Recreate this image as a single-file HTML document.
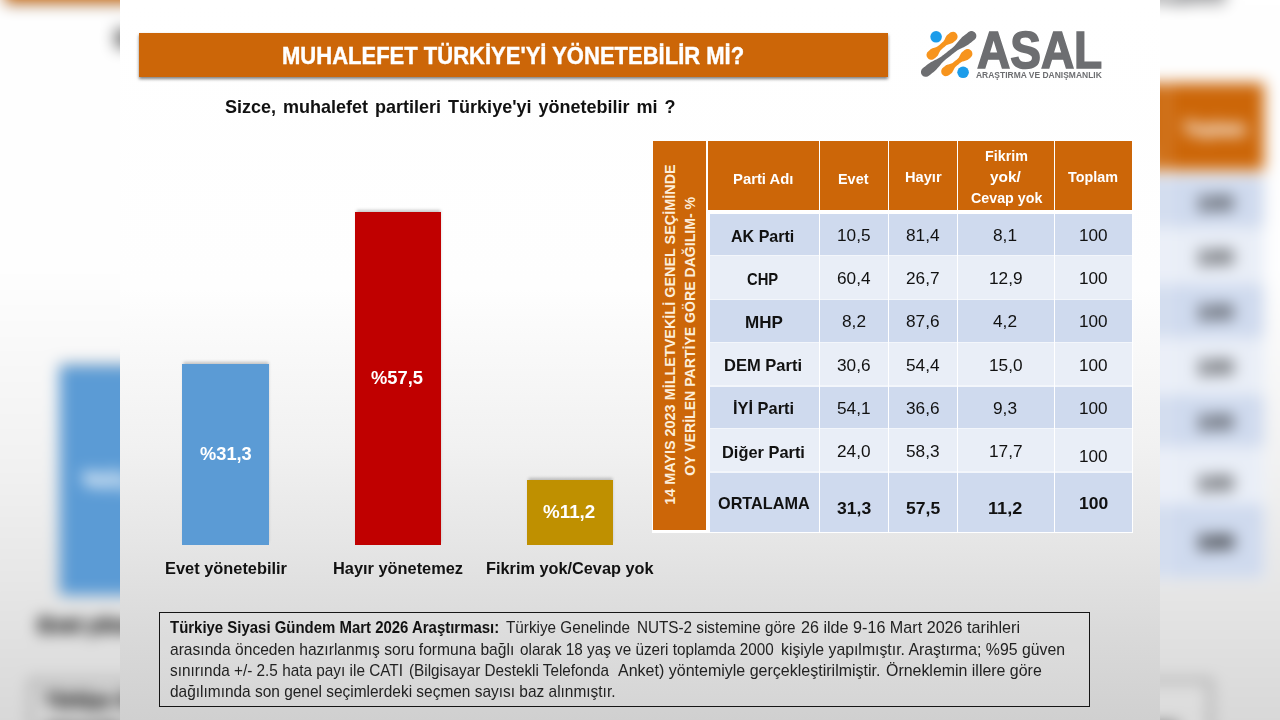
<!DOCTYPE html>
<html lang="tr"><head><meta charset="utf-8"><title>MUHALEFET TÜRKİYE'Yİ YÖNETEBİLİR Mİ?</title>
<style>
html,body{margin:0;padding:0}
body{width:1280px;height:720px;overflow:hidden;position:relative;background:#fff;font-family:'Liberation Sans',sans-serif}
.slide{position:absolute;left:120px;top:0;width:1040px;height:720px;overflow:hidden;
background:linear-gradient(180deg,#fff 0%,#fefefe 40%,#f1f1f1 62%,#e6e6e6 75%,#dadada 87.5%,#d0d0d0 100%)}
.t{position:absolute;white-space:pre;line-height:1;transform-origin:0 50%;font-family:'Liberation Sans',sans-serif}
.ttl{-webkit-text-stroke:.4px #fff}
.asal{-webkit-text-stroke:1.6px #6d6e71}
.bgwrap{position:absolute;left:0;top:0;width:1280px;height:720px;overflow:hidden}
.bg{position:absolute;left:-19.4px;top:-96.5px;width:1040px;height:720px;transform-origin:0 0;transform:scale(1.26800);filter:blur(6px)}
.bg .slide{left:0;overflow:visible}
.bg .t{-webkit-text-stroke:.7px}
.bg .asal{-webkit-text-stroke:1.9px #6d6e71}
.ext{position:absolute;left:-80px;top:-80px;width:1200px;height:880px;background:linear-gradient(180deg,#fff 0%,#fff 9.1%,#fefefe 41.8%,#f1f1f1 59.8%,#e6e6e6 70.5%,#dadada 80.7%,#d0d0d0 90.9%,#d0d0d0 100%)}
</style></head><body>
<div class="bgwrap" aria-hidden="true"><div class="bg"><div class="ext"></div><div class="slide">
<div style="position:absolute;left:19.00px;top:33.00px;width:749.00px;height:43.80px;background:#cc6608;box-shadow:0 2px 3px rgba(0,0,0,.5)"></div>
<div style="position:absolute;left:62.00px;top:364.00px;width:87.00px;height:180.50px;background:#5b9bd5;box-shadow:0 -2.5px 3px -0.5px rgba(0,0,0,.22)"></div>
<div style="position:absolute;left:235.00px;top:212.00px;width:86.20px;height:332.50px;background:#c00000;box-shadow:0 -2.5px 3px -0.5px rgba(0,0,0,.22)"></div>
<div style="position:absolute;left:407.00px;top:480.00px;width:86.00px;height:64.50px;background:#bf9000;box-shadow:0 -2.5px 3px -0.5px rgba(0,0,0,.22)"></div>
<div style="position:absolute;left:532.00px;top:140.50px;width:481.00px;height:392.50px;background:#fff;"></div>
<div style="position:absolute;left:589.50px;top:214.30px;width:422.50px;height:317.20px;background:#f3f6fb;"></div>
<div style="position:absolute;left:533.00px;top:141.00px;width:53.30px;height:388.50px;background:#cc6608;"></div>
<div style="position:absolute;left:588.00px;top:141.00px;width:111.00px;height:69.20px;background:#cc6608;"></div>
<div style="position:absolute;left:700.00px;top:141.00px;width:68.00px;height:69.20px;background:#cc6608;"></div>
<div style="position:absolute;left:769.00px;top:141.00px;width:68.00px;height:69.20px;background:#cc6608;"></div>
<div style="position:absolute;left:838.00px;top:141.00px;width:95.50px;height:69.20px;background:#cc6608;"></div>
<div style="position:absolute;left:934.50px;top:141.00px;width:77.50px;height:69.20px;background:#cc6608;"></div>
<div style="position:absolute;left:589.50px;top:214.30px;width:109.50px;height:40.70px;background:#cfdaee;"></div>
<div style="position:absolute;left:700.00px;top:214.30px;width:68.00px;height:40.70px;background:#cfdaee;"></div>
<div style="position:absolute;left:769.00px;top:214.30px;width:68.00px;height:40.70px;background:#cfdaee;"></div>
<div style="position:absolute;left:838.00px;top:214.30px;width:95.50px;height:40.70px;background:#cfdaee;"></div>
<div style="position:absolute;left:934.50px;top:214.30px;width:77.20px;height:40.70px;background:#cfdaee;"></div>
<div style="position:absolute;left:589.50px;top:256.00px;width:109.50px;height:43.30px;background:#e9eef7;"></div>
<div style="position:absolute;left:700.00px;top:256.00px;width:68.00px;height:43.30px;background:#e9eef7;"></div>
<div style="position:absolute;left:769.00px;top:256.00px;width:68.00px;height:43.30px;background:#e9eef7;"></div>
<div style="position:absolute;left:838.00px;top:256.00px;width:95.50px;height:43.30px;background:#e9eef7;"></div>
<div style="position:absolute;left:934.50px;top:256.00px;width:77.20px;height:43.30px;background:#e9eef7;"></div>
<div style="position:absolute;left:589.50px;top:300.30px;width:109.50px;height:42.00px;background:#cfdaee;"></div>
<div style="position:absolute;left:700.00px;top:300.30px;width:68.00px;height:42.00px;background:#cfdaee;"></div>
<div style="position:absolute;left:769.00px;top:300.30px;width:68.00px;height:42.00px;background:#cfdaee;"></div>
<div style="position:absolute;left:838.00px;top:300.30px;width:95.50px;height:42.00px;background:#cfdaee;"></div>
<div style="position:absolute;left:934.50px;top:300.30px;width:77.20px;height:42.00px;background:#cfdaee;"></div>
<div style="position:absolute;left:589.50px;top:343.30px;width:109.50px;height:42.20px;background:#e9eef7;"></div>
<div style="position:absolute;left:700.00px;top:343.30px;width:68.00px;height:42.20px;background:#e9eef7;"></div>
<div style="position:absolute;left:769.00px;top:343.30px;width:68.00px;height:42.20px;background:#e9eef7;"></div>
<div style="position:absolute;left:838.00px;top:343.30px;width:95.50px;height:42.20px;background:#e9eef7;"></div>
<div style="position:absolute;left:934.50px;top:343.30px;width:77.20px;height:42.20px;background:#e9eef7;"></div>
<div style="position:absolute;left:589.50px;top:386.50px;width:109.50px;height:41.30px;background:#cfdaee;"></div>
<div style="position:absolute;left:700.00px;top:386.50px;width:68.00px;height:41.30px;background:#cfdaee;"></div>
<div style="position:absolute;left:769.00px;top:386.50px;width:68.00px;height:41.30px;background:#cfdaee;"></div>
<div style="position:absolute;left:838.00px;top:386.50px;width:95.50px;height:41.30px;background:#cfdaee;"></div>
<div style="position:absolute;left:934.50px;top:386.50px;width:77.20px;height:41.30px;background:#cfdaee;"></div>
<div style="position:absolute;left:589.50px;top:428.80px;width:109.50px;height:42.70px;background:#e9eef7;"></div>
<div style="position:absolute;left:700.00px;top:428.80px;width:68.00px;height:42.70px;background:#e9eef7;"></div>
<div style="position:absolute;left:769.00px;top:428.80px;width:68.00px;height:42.70px;background:#e9eef7;"></div>
<div style="position:absolute;left:838.00px;top:428.80px;width:95.50px;height:42.70px;background:#e9eef7;"></div>
<div style="position:absolute;left:934.50px;top:428.80px;width:77.20px;height:42.70px;background:#e9eef7;"></div>
<div style="position:absolute;left:589.50px;top:472.50px;width:109.50px;height:59.00px;background:#cfdaee;"></div>
<div style="position:absolute;left:700.00px;top:472.50px;width:68.00px;height:59.00px;background:#cfdaee;"></div>
<div style="position:absolute;left:769.00px;top:472.50px;width:68.00px;height:59.00px;background:#cfdaee;"></div>
<div style="position:absolute;left:838.00px;top:472.50px;width:95.50px;height:59.00px;background:#cfdaee;"></div>
<div style="position:absolute;left:934.50px;top:472.50px;width:77.20px;height:59.00px;background:#cfdaee;"></div>
<div style="position:absolute;left:699.00px;top:214.30px;width:1.00px;height:317.20px;background:#fff;"></div>
<div style="position:absolute;left:768.00px;top:214.30px;width:1.00px;height:317.20px;background:#fff;"></div>
<div style="position:absolute;left:837.00px;top:214.30px;width:1.00px;height:317.20px;background:#fff;"></div>
<div style="position:absolute;left:933.50px;top:214.30px;width:1.00px;height:317.20px;background:#fff;"></div>
<div style="position:absolute;left:39px;top:611.6px;width:928.7px;height:93.0px;border:1px solid #151515;background:rgba(255,255,255,.1);box-sizing:content-box"></div>
<svg style="position:absolute;left:795px;top:25px" width="70" height="60" viewBox="0 0 70 60"><path d="M19.4 33.6 L18.4 34.3 L17.2 34.7 L15.9 34.8 L14.7 34.5 L13.6 34.0 L12.7 33.1 L12.0 32.1 L11.6 30.9 L11.5 29.6 L11.8 28.4 L12.3 27.3 L13.2 26.4 L13.7 25.9 L14.3 25.4 L14.8 25.0 L15.3 24.5 L15.9 24.1 L16.5 23.7 L17.2 23.4 L17.9 23.1 L18.6 22.9 L19.3 22.7 L20.1 22.4 L20.8 22.2 L21.5 21.9 L22.2 21.6 L22.8 21.3 L23.3 20.8 L23.9 20.4 L24.4 19.9 L25.0 19.4 L25.5 19.0 L26.0 18.5 L26.6 18.1 L27.1 17.6 L27.6 17.1 L28.2 16.7 L28.6 16.1 L29.0 15.5 L29.4 14.9 L29.8 14.2 L30.1 13.5 L30.4 12.8 L30.8 12.1 L31.1 11.4 L31.5 10.8 L32.0 10.3 L32.5 9.8 L33.1 9.3 L33.6 8.9 L34.1 8.4 L34.7 8.0 L35.7 7.3 L36.9 6.9 L38.2 6.8 L39.4 7.1 L40.5 7.6 L41.4 8.5 L42.1 9.5 L42.5 10.7 L42.6 12.0 L42.3 13.2 L41.8 14.3 L40.9 15.2 L40.4 15.7 L39.8 16.2 L39.3 16.6 L38.8 17.1 L38.2 17.5 L37.6 17.9 L36.9 18.2 L36.2 18.5 L35.5 18.7 L34.8 18.9 L34.0 19.2 L33.3 19.4 L32.6 19.7 L31.9 20.0 L31.3 20.3 L30.8 20.8 L30.2 21.2 L29.7 21.7 L29.1 22.2 L28.6 22.6 L28.1 23.1 L27.5 23.5 L27.0 24.0 L26.5 24.5 L25.9 24.9 L25.5 25.5 L25.1 26.1 L24.7 26.7 L24.3 27.4 L24.0 28.1 L23.7 28.8 L23.3 29.5 L23.0 30.2 L22.6 30.8 L22.1 31.3 L21.6 31.8 L21.0 32.3 L20.5 32.7 L20.0 33.2Z" fill="#f7941d"/><path d="M13.8 50.8 L12.7 51.5 L11.5 51.8 L10.2 51.8 L9.0 51.5 L7.9 50.9 L7.0 50.0 L6.3 48.9 L6.0 47.7 L6.0 46.4 L6.3 45.2 L6.9 44.1 L7.8 43.2 L8.9 42.3 L10.1 41.4 L11.2 40.5 L12.4 39.6 L13.5 38.7 L14.7 37.9 L16.0 37.1 L17.3 36.4 L18.6 35.7 L19.9 35.1 L21.3 34.4 L22.6 33.8 L23.9 33.1 L25.2 32.3 L26.4 31.5 L27.5 30.6 L28.7 29.7 L29.8 28.8 L31.0 27.9 L32.1 27.0 L33.2 26.1 L34.4 25.2 L35.5 24.3 L36.7 23.4 L37.8 22.5 L38.9 21.5 L39.9 20.4 L40.9 19.3 L41.8 18.2 L42.8 17.0 L43.7 15.9 L44.7 14.8 L45.7 13.7 L46.7 12.6 L47.8 11.6 L48.9 10.7 L50.1 9.8 L51.2 8.9 L52.4 8.0 L53.5 7.1 L54.6 6.4 L55.8 6.1 L57.1 6.1 L58.3 6.4 L59.4 7.0 L60.3 7.9 L61.0 9.0 L61.3 10.2 L61.3 11.5 L61.0 12.7 L60.4 13.8 L59.5 14.7 L58.4 15.6 L57.2 16.5 L56.1 17.4 L54.9 18.3 L53.8 19.2 L52.6 20.0 L51.3 20.8 L50.0 21.5 L48.7 22.2 L47.4 22.8 L46.0 23.5 L44.7 24.1 L43.4 24.8 L42.1 25.6 L40.9 26.4 L39.8 27.3 L38.6 28.2 L37.5 29.1 L36.3 30.0 L35.2 30.9 L34.1 31.8 L32.9 32.7 L31.8 33.6 L30.6 34.5 L29.5 35.4 L28.4 36.4 L27.4 37.5 L26.4 38.6 L25.5 39.7 L24.5 40.9 L23.6 42.0 L22.6 43.1 L21.6 44.2 L20.6 45.3 L19.5 46.3 L18.4 47.2 L17.2 48.1 L16.1 49.0 L14.9 49.9Z" fill="#6d6e71"/><path d="M34.0 50.1 L33.0 50.8 L31.8 51.1 L30.5 51.2 L29.3 50.9 L28.2 50.3 L27.3 49.4 L26.6 48.4 L26.3 47.2 L26.2 45.9 L26.5 44.7 L27.1 43.6 L28.0 42.7 L28.5 42.2 L29.0 41.8 L29.6 41.4 L30.1 40.9 L30.7 40.5 L31.3 40.1 L32.0 39.9 L32.7 39.6 L33.4 39.4 L34.1 39.2 L34.9 39.0 L35.6 38.8 L36.3 38.6 L37.0 38.3 L37.6 37.9 L38.1 37.5 L38.7 37.1 L39.2 36.6 L39.7 36.2 L40.3 35.7 L40.8 35.3 L41.4 34.9 L41.9 34.4 L42.4 34.0 L43.0 33.5 L43.4 33.0 L43.9 32.4 L44.2 31.8 L44.6 31.1 L44.9 30.4 L45.3 29.7 L45.6 29.1 L46.0 28.4 L46.4 27.8 L46.9 27.3 L47.4 26.8 L47.9 26.4 L48.5 26.0 L49.0 25.5 L49.6 25.1 L50.6 24.4 L51.8 24.1 L53.1 24.0 L54.3 24.3 L55.4 24.9 L56.3 25.8 L57.0 26.8 L57.3 28.0 L57.4 29.3 L57.1 30.5 L56.5 31.6 L55.6 32.5 L55.1 33.0 L54.6 33.4 L54.0 33.8 L53.5 34.3 L52.9 34.7 L52.3 35.1 L51.6 35.3 L50.9 35.6 L50.2 35.8 L49.5 36.0 L48.7 36.2 L48.0 36.4 L47.3 36.6 L46.6 36.9 L46.0 37.3 L45.5 37.7 L44.9 38.1 L44.4 38.6 L43.9 39.0 L43.3 39.5 L42.8 39.9 L42.2 40.3 L41.7 40.8 L41.2 41.2 L40.6 41.7 L40.2 42.2 L39.7 42.8 L39.4 43.4 L39.0 44.1 L38.7 44.8 L38.3 45.5 L38.0 46.1 L37.6 46.8 L37.2 47.4 L36.7 47.9 L36.2 48.4 L35.7 48.8 L35.1 49.2 L34.6 49.7Z" fill="#f7941d"/><circle cx="21.1" cy="11.8" r="5.8" fill="#1c9cea"/><circle cx="48.1" cy="47.3" r="5.8" fill="#1c9cea"/></svg>
<div class="t" style="left:554.91px;top:493.15px;font-size:14px;font-weight:700;color:#fdeeda;transform-origin:0 11.85px;transform:rotate(-90deg) scaleX(1.0301)">14 MAYIS 2023 MİLLETVEKİLİ GENEL SEÇİMİNDE</div>
<div class="t" style="left:575.01px;top:464.15px;font-size:14px;font-weight:700;color:#fdeeda;transform-origin:0 11.85px;transform:rotate(-90deg) scaleX(1.0065)">OY VERİLEN PARTİYE GÖRE DAĞILIM- %</div>
<div class="t ttl" style="left:162.20px;top:44.73px;font-size:23.0px;font-weight:700;color:#fff;transform:scaleX(0.9570)">MUHALEFET TÜRKİYE'Yİ YÖNETEBİLİR Mİ?</div>
<div class="t " style="left:104.50px;top:97.79px;font-size:18.2px;font-weight:700;color:#111;word-spacing:2px;transform:scaleX(0.9901)">Sizce, muhalefet partileri Türkiye'yi yönetebilir mi ?</div>
<div class="t " style="left:613.30px;top:171.05px;font-size:15px;font-weight:700;color:#fff;transform:scaleX(0.9890)">Parti Adı</div>
<div class="t " style="left:718.30px;top:171.05px;font-size:15px;font-weight:700;color:#fff;transform:scaleX(0.9609)">Evet</div>
<div class="t " style="left:785.40px;top:169.30px;font-size:15px;font-weight:700;color:#fff;transform:scaleX(0.9752)">Hayır</div>
<div class="t " style="left:864.60px;top:148.10px;font-size:15px;font-weight:700;color:#fff;transform:scaleX(0.9530)">Fikrim</div>
<div class="t " style="left:870.40px;top:169.30px;font-size:15px;font-weight:700;color:#fff;transform:scaleX(1.0278)">yok/</div>
<div class="t " style="left:850.60px;top:189.80px;font-size:15px;font-weight:700;color:#fff;transform:scaleX(0.9514)">Cevap yok</div>
<div class="t " style="left:947.50px;top:169.00px;font-size:15px;font-weight:700;color:#fff;transform:scaleX(0.9572)">Toplam</div>
<div class="t " style="left:611.25px;top:229.21px;font-size:15.7px;font-weight:700;color:#111;transform:scaleX(1.0233)">AK Parti</div>
<div class="t " style="left:627.30px;top:272.31px;font-size:15.7px;font-weight:700;color:#111;transform:scaleX(0.9419)">CHP</div>
<div class="t " style="left:624.80px;top:315.01px;font-size:15.7px;font-weight:700;color:#111;transform:scaleX(1.0867)">MHP</div>
<div class="t " style="left:604.40px;top:358.41px;font-size:15.7px;font-weight:700;color:#111;transform:scaleX(1.0538)">DEM Parti</div>
<div class="t " style="left:612.70px;top:401.11px;font-size:15.7px;font-weight:700;color:#111;transform:scaleX(1.0450)">İYİ Parti</div>
<div class="t " style="left:601.70px;top:445.01px;font-size:15.7px;font-weight:700;color:#111;transform:scaleX(1.0448)">Diğer Parti</div>
<div class="t " style="left:597.50px;top:496.11px;font-size:15.7px;font-weight:700;color:#111;transform:scaleX(1.0351)">ORTALAMA</div>
<div class="t " style="left:716.93px;top:227.71px;font-size:15.7px;font-weight:400;color:#111;transform:scaleX(1.0983)">10,5</div>
<div class="t " style="left:786.02px;top:227.71px;font-size:15.7px;font-weight:400;color:#111;transform:scaleX(1.0983)">81,4</div>
<div class="t " style="left:873.30px;top:227.71px;font-size:15.7px;font-weight:400;color:#111;transform:scaleX(1.1003)">8,1</div>
<div class="t " style="left:959.17px;top:227.71px;font-size:15.7px;font-weight:400;color:#111;transform:scaleX(1.0940)">100</div>
<div class="t " style="left:716.93px;top:270.81px;font-size:15.7px;font-weight:400;color:#111;transform:scaleX(1.0983)">60,4</div>
<div class="t " style="left:786.02px;top:270.81px;font-size:15.7px;font-weight:400;color:#111;transform:scaleX(1.0983)">26,7</div>
<div class="t " style="left:868.52px;top:270.81px;font-size:15.7px;font-weight:400;color:#111;transform:scaleX(1.0983)">12,9</div>
<div class="t " style="left:959.17px;top:270.81px;font-size:15.7px;font-weight:400;color:#111;transform:scaleX(1.0940)">100</div>
<div class="t " style="left:721.70px;top:314.01px;font-size:15.7px;font-weight:400;color:#111;transform:scaleX(1.1003)">8,2</div>
<div class="t " style="left:786.02px;top:314.01px;font-size:15.7px;font-weight:400;color:#111;transform:scaleX(1.0983)">87,6</div>
<div class="t " style="left:873.30px;top:314.01px;font-size:15.7px;font-weight:400;color:#111;transform:scaleX(1.1003)">4,2</div>
<div class="t " style="left:959.17px;top:314.01px;font-size:15.7px;font-weight:400;color:#111;transform:scaleX(1.0940)">100</div>
<div class="t " style="left:716.93px;top:357.71px;font-size:15.7px;font-weight:400;color:#111;transform:scaleX(1.0983)">30,6</div>
<div class="t " style="left:786.02px;top:357.71px;font-size:15.7px;font-weight:400;color:#111;transform:scaleX(1.0983)">54,4</div>
<div class="t " style="left:868.52px;top:357.71px;font-size:15.7px;font-weight:400;color:#111;transform:scaleX(1.0983)">15,0</div>
<div class="t " style="left:959.17px;top:357.71px;font-size:15.7px;font-weight:400;color:#111;transform:scaleX(1.0940)">100</div>
<div class="t " style="left:716.93px;top:400.81px;font-size:15.7px;font-weight:400;color:#111;transform:scaleX(1.0983)">54,1</div>
<div class="t " style="left:786.02px;top:400.81px;font-size:15.7px;font-weight:400;color:#111;transform:scaleX(1.0983)">36,6</div>
<div class="t " style="left:873.30px;top:400.81px;font-size:15.7px;font-weight:400;color:#111;transform:scaleX(1.1003)">9,3</div>
<div class="t " style="left:959.17px;top:400.81px;font-size:15.7px;font-weight:400;color:#111;transform:scaleX(1.0940)">100</div>
<div class="t " style="left:716.93px;top:444.01px;font-size:15.7px;font-weight:400;color:#111;transform:scaleX(1.0983)">24,0</div>
<div class="t " style="left:786.02px;top:444.01px;font-size:15.7px;font-weight:400;color:#111;transform:scaleX(1.0983)">58,3</div>
<div class="t " style="left:868.52px;top:444.01px;font-size:15.7px;font-weight:400;color:#111;transform:scaleX(1.0983)">17,7</div>
<div class="t " style="left:959.17px;top:449.21px;font-size:15.7px;font-weight:400;color:#111;transform:scaleX(1.0940)">100</div>
<div class="t " style="left:716.59px;top:500.71px;font-size:15.7px;font-weight:700;color:#111;transform:scaleX(1.1203)">31,3</div>
<div class="t " style="left:785.69px;top:500.71px;font-size:15.7px;font-weight:700;color:#111;transform:scaleX(1.1203)">57,5</div>
<div class="t " style="left:868.19px;top:500.71px;font-size:15.7px;font-weight:700;color:#111;transform:scaleX(1.1533)">11,2</div>
<div class="t " style="left:958.89px;top:496.01px;font-size:15.7px;font-weight:700;color:#111;transform:scaleX(1.1159)">100</div>
<div class="t " style="left:79.50px;top:446.19px;font-size:17.5px;font-weight:700;color:#fff;transform:scaleX(1.0428)">%31,3</div>
<div class="t " style="left:251.40px;top:369.79px;font-size:17.5px;font-weight:700;color:#fff;transform:scaleX(1.0479)">%57,5</div>
<div class="t " style="left:423.25px;top:504.49px;font-size:17.5px;font-weight:700;color:#fff;transform:scaleX(1.0739)">%11,2</div>
<div class="t " style="left:44.50px;top:561.31px;font-size:15.7px;font-weight:700;color:#111;transform:scaleX(1.0443)">Evet yönetebilir</div>
<div class="t " style="left:213.00px;top:561.31px;font-size:15.7px;font-weight:700;color:#111;transform:scaleX(1.0426)">Hayır yönetemez</div>
<div class="t " style="left:366.25px;top:561.31px;font-size:15.7px;font-weight:700;color:#111;transform:scaleX(1.0384)">Fikrim yok/Cevap yok</div>
<div class="t " style="left:49.50px;top:619.37px;font-size:16.1px;font-weight:700;color:#111;transform:scaleX(0.9287)">Türkiye Siyasi Gündem Mart 2026 Araştırması:</div>
<div class="t " style="left:386.00px;top:619.37px;font-size:16.1px;font-weight:400;color:#222;transform:scaleX(0.9494)">Türkiye Genelinde</div>
<div class="t " style="left:517.00px;top:619.37px;font-size:16.1px;font-weight:400;color:#222;transform:scaleX(0.9477)">NUTS-2 sistemine göre</div>
<div class="t " style="left:681.00px;top:619.37px;font-size:16.1px;font-weight:400;color:#222;transform:scaleX(1.0033)">26 ilde 9-16 Mart 2026 tarihleri</div>
<div class="t " style="left:49.50px;top:640.62px;font-size:16.1px;font-weight:400;color:#222;transform:scaleX(0.9692)">arasında önceden hazırlanmış soru formuna bağlı</div>
<div class="t " style="left:400.00px;top:640.62px;font-size:16.1px;font-weight:400;color:#222;transform:scaleX(0.9486)">olarak 18 yaş ve üzeri toplamda 2000</div>
<div class="t " style="left:661.00px;top:640.62px;font-size:16.1px;font-weight:400;color:#222;transform:scaleX(0.9830)">kişiyle yapılmıştır. Araştırma; %95 güven</div>
<div class="t " style="left:49.50px;top:661.87px;font-size:16.1px;font-weight:400;color:#222;transform:scaleX(0.9535)">sınırında +/- 2.5 hata payı ile CATI</div>
<div class="t " style="left:288.75px;top:661.87px;font-size:16.1px;font-weight:400;color:#222;transform:scaleX(0.9486)">(Bilgisayar Destekli Telefonda</div>
<div class="t " style="left:497.50px;top:661.87px;font-size:16.1px;font-weight:400;color:#222;transform:scaleX(0.9949)">Anket) yöntemiyle gerçekleştirilmiştir.</div>
<div class="t " style="left:766.25px;top:661.87px;font-size:16.1px;font-weight:400;color:#222;transform:scaleX(0.9893)">Örneklemin illere göre</div>
<div class="t " style="left:49.50px;top:683.12px;font-size:16.1px;font-weight:400;color:#222;transform:scaleX(0.9596)">dağılımında son genel seçimlerdeki seçmen sayısı baz alınmıştır.</div>
<div class="t asal" style="left:857.20px;top:24.28px;font-size:52px;font-weight:700;color:#6d6e71;transform:scaleX(0.8844)">ASAL</div>
<div class="t " style="left:856.00px;top:69.92px;font-size:9.9px;font-weight:700;color:#6d6e71;transform:scaleX(0.8577)">ARAŞTIRMA VE DANIŞMANLIK</div>
</div></div></div>
<div class="slide">
<div style="position:absolute;left:19.00px;top:33.00px;width:749.00px;height:43.80px;background:#cc6608;box-shadow:0 2px 3px rgba(0,0,0,.5)"></div>
<div style="position:absolute;left:62.00px;top:364.00px;width:87.00px;height:180.50px;background:#5b9bd5;box-shadow:0 -2.5px 3px -0.5px rgba(0,0,0,.22)"></div>
<div style="position:absolute;left:235.00px;top:212.00px;width:86.20px;height:332.50px;background:#c00000;box-shadow:0 -2.5px 3px -0.5px rgba(0,0,0,.22)"></div>
<div style="position:absolute;left:407.00px;top:480.00px;width:86.00px;height:64.50px;background:#bf9000;box-shadow:0 -2.5px 3px -0.5px rgba(0,0,0,.22)"></div>
<div style="position:absolute;left:532.00px;top:140.50px;width:481.00px;height:392.50px;background:#fff;"></div>
<div style="position:absolute;left:589.50px;top:214.30px;width:422.50px;height:317.20px;background:#f3f6fb;"></div>
<div style="position:absolute;left:533.00px;top:141.00px;width:53.30px;height:388.50px;background:#cc6608;"></div>
<div style="position:absolute;left:588.00px;top:141.00px;width:111.00px;height:69.20px;background:#cc6608;"></div>
<div style="position:absolute;left:700.00px;top:141.00px;width:68.00px;height:69.20px;background:#cc6608;"></div>
<div style="position:absolute;left:769.00px;top:141.00px;width:68.00px;height:69.20px;background:#cc6608;"></div>
<div style="position:absolute;left:838.00px;top:141.00px;width:95.50px;height:69.20px;background:#cc6608;"></div>
<div style="position:absolute;left:934.50px;top:141.00px;width:77.50px;height:69.20px;background:#cc6608;"></div>
<div style="position:absolute;left:589.50px;top:214.30px;width:109.50px;height:40.70px;background:#cfdaee;"></div>
<div style="position:absolute;left:700.00px;top:214.30px;width:68.00px;height:40.70px;background:#cfdaee;"></div>
<div style="position:absolute;left:769.00px;top:214.30px;width:68.00px;height:40.70px;background:#cfdaee;"></div>
<div style="position:absolute;left:838.00px;top:214.30px;width:95.50px;height:40.70px;background:#cfdaee;"></div>
<div style="position:absolute;left:934.50px;top:214.30px;width:77.20px;height:40.70px;background:#cfdaee;"></div>
<div style="position:absolute;left:589.50px;top:256.00px;width:109.50px;height:43.30px;background:#e9eef7;"></div>
<div style="position:absolute;left:700.00px;top:256.00px;width:68.00px;height:43.30px;background:#e9eef7;"></div>
<div style="position:absolute;left:769.00px;top:256.00px;width:68.00px;height:43.30px;background:#e9eef7;"></div>
<div style="position:absolute;left:838.00px;top:256.00px;width:95.50px;height:43.30px;background:#e9eef7;"></div>
<div style="position:absolute;left:934.50px;top:256.00px;width:77.20px;height:43.30px;background:#e9eef7;"></div>
<div style="position:absolute;left:589.50px;top:300.30px;width:109.50px;height:42.00px;background:#cfdaee;"></div>
<div style="position:absolute;left:700.00px;top:300.30px;width:68.00px;height:42.00px;background:#cfdaee;"></div>
<div style="position:absolute;left:769.00px;top:300.30px;width:68.00px;height:42.00px;background:#cfdaee;"></div>
<div style="position:absolute;left:838.00px;top:300.30px;width:95.50px;height:42.00px;background:#cfdaee;"></div>
<div style="position:absolute;left:934.50px;top:300.30px;width:77.20px;height:42.00px;background:#cfdaee;"></div>
<div style="position:absolute;left:589.50px;top:343.30px;width:109.50px;height:42.20px;background:#e9eef7;"></div>
<div style="position:absolute;left:700.00px;top:343.30px;width:68.00px;height:42.20px;background:#e9eef7;"></div>
<div style="position:absolute;left:769.00px;top:343.30px;width:68.00px;height:42.20px;background:#e9eef7;"></div>
<div style="position:absolute;left:838.00px;top:343.30px;width:95.50px;height:42.20px;background:#e9eef7;"></div>
<div style="position:absolute;left:934.50px;top:343.30px;width:77.20px;height:42.20px;background:#e9eef7;"></div>
<div style="position:absolute;left:589.50px;top:386.50px;width:109.50px;height:41.30px;background:#cfdaee;"></div>
<div style="position:absolute;left:700.00px;top:386.50px;width:68.00px;height:41.30px;background:#cfdaee;"></div>
<div style="position:absolute;left:769.00px;top:386.50px;width:68.00px;height:41.30px;background:#cfdaee;"></div>
<div style="position:absolute;left:838.00px;top:386.50px;width:95.50px;height:41.30px;background:#cfdaee;"></div>
<div style="position:absolute;left:934.50px;top:386.50px;width:77.20px;height:41.30px;background:#cfdaee;"></div>
<div style="position:absolute;left:589.50px;top:428.80px;width:109.50px;height:42.70px;background:#e9eef7;"></div>
<div style="position:absolute;left:700.00px;top:428.80px;width:68.00px;height:42.70px;background:#e9eef7;"></div>
<div style="position:absolute;left:769.00px;top:428.80px;width:68.00px;height:42.70px;background:#e9eef7;"></div>
<div style="position:absolute;left:838.00px;top:428.80px;width:95.50px;height:42.70px;background:#e9eef7;"></div>
<div style="position:absolute;left:934.50px;top:428.80px;width:77.20px;height:42.70px;background:#e9eef7;"></div>
<div style="position:absolute;left:589.50px;top:472.50px;width:109.50px;height:59.00px;background:#cfdaee;"></div>
<div style="position:absolute;left:700.00px;top:472.50px;width:68.00px;height:59.00px;background:#cfdaee;"></div>
<div style="position:absolute;left:769.00px;top:472.50px;width:68.00px;height:59.00px;background:#cfdaee;"></div>
<div style="position:absolute;left:838.00px;top:472.50px;width:95.50px;height:59.00px;background:#cfdaee;"></div>
<div style="position:absolute;left:934.50px;top:472.50px;width:77.20px;height:59.00px;background:#cfdaee;"></div>
<div style="position:absolute;left:699.00px;top:214.30px;width:1.00px;height:317.20px;background:#fff;"></div>
<div style="position:absolute;left:768.00px;top:214.30px;width:1.00px;height:317.20px;background:#fff;"></div>
<div style="position:absolute;left:837.00px;top:214.30px;width:1.00px;height:317.20px;background:#fff;"></div>
<div style="position:absolute;left:933.50px;top:214.30px;width:1.00px;height:317.20px;background:#fff;"></div>
<div style="position:absolute;left:39px;top:611.6px;width:928.7px;height:93.0px;border:1px solid #151515;background:rgba(255,255,255,.1);box-sizing:content-box"></div>
<svg style="position:absolute;left:795px;top:25px" width="70" height="60" viewBox="0 0 70 60"><path d="M19.4 33.6 L18.4 34.3 L17.2 34.7 L15.9 34.8 L14.7 34.5 L13.6 34.0 L12.7 33.1 L12.0 32.1 L11.6 30.9 L11.5 29.6 L11.8 28.4 L12.3 27.3 L13.2 26.4 L13.7 25.9 L14.3 25.4 L14.8 25.0 L15.3 24.5 L15.9 24.1 L16.5 23.7 L17.2 23.4 L17.9 23.1 L18.6 22.9 L19.3 22.7 L20.1 22.4 L20.8 22.2 L21.5 21.9 L22.2 21.6 L22.8 21.3 L23.3 20.8 L23.9 20.4 L24.4 19.9 L25.0 19.4 L25.5 19.0 L26.0 18.5 L26.6 18.1 L27.1 17.6 L27.6 17.1 L28.2 16.7 L28.6 16.1 L29.0 15.5 L29.4 14.9 L29.8 14.2 L30.1 13.5 L30.4 12.8 L30.8 12.1 L31.1 11.4 L31.5 10.8 L32.0 10.3 L32.5 9.8 L33.1 9.3 L33.6 8.9 L34.1 8.4 L34.7 8.0 L35.7 7.3 L36.9 6.9 L38.2 6.8 L39.4 7.1 L40.5 7.6 L41.4 8.5 L42.1 9.5 L42.5 10.7 L42.6 12.0 L42.3 13.2 L41.8 14.3 L40.9 15.2 L40.4 15.7 L39.8 16.2 L39.3 16.6 L38.8 17.1 L38.2 17.5 L37.6 17.9 L36.9 18.2 L36.2 18.5 L35.5 18.7 L34.8 18.9 L34.0 19.2 L33.3 19.4 L32.6 19.7 L31.9 20.0 L31.3 20.3 L30.8 20.8 L30.2 21.2 L29.7 21.7 L29.1 22.2 L28.6 22.6 L28.1 23.1 L27.5 23.5 L27.0 24.0 L26.5 24.5 L25.9 24.9 L25.5 25.5 L25.1 26.1 L24.7 26.7 L24.3 27.4 L24.0 28.1 L23.7 28.8 L23.3 29.5 L23.0 30.2 L22.6 30.8 L22.1 31.3 L21.6 31.8 L21.0 32.3 L20.5 32.7 L20.0 33.2Z" fill="#f7941d"/><path d="M13.8 50.8 L12.7 51.5 L11.5 51.8 L10.2 51.8 L9.0 51.5 L7.9 50.9 L7.0 50.0 L6.3 48.9 L6.0 47.7 L6.0 46.4 L6.3 45.2 L6.9 44.1 L7.8 43.2 L8.9 42.3 L10.1 41.4 L11.2 40.5 L12.4 39.6 L13.5 38.7 L14.7 37.9 L16.0 37.1 L17.3 36.4 L18.6 35.7 L19.9 35.1 L21.3 34.4 L22.6 33.8 L23.9 33.1 L25.2 32.3 L26.4 31.5 L27.5 30.6 L28.7 29.7 L29.8 28.8 L31.0 27.9 L32.1 27.0 L33.2 26.1 L34.4 25.2 L35.5 24.3 L36.7 23.4 L37.8 22.5 L38.9 21.5 L39.9 20.4 L40.9 19.3 L41.8 18.2 L42.8 17.0 L43.7 15.9 L44.7 14.8 L45.7 13.7 L46.7 12.6 L47.8 11.6 L48.9 10.7 L50.1 9.8 L51.2 8.9 L52.4 8.0 L53.5 7.1 L54.6 6.4 L55.8 6.1 L57.1 6.1 L58.3 6.4 L59.4 7.0 L60.3 7.9 L61.0 9.0 L61.3 10.2 L61.3 11.5 L61.0 12.7 L60.4 13.8 L59.5 14.7 L58.4 15.6 L57.2 16.5 L56.1 17.4 L54.9 18.3 L53.8 19.2 L52.6 20.0 L51.3 20.8 L50.0 21.5 L48.7 22.2 L47.4 22.8 L46.0 23.5 L44.7 24.1 L43.4 24.8 L42.1 25.6 L40.9 26.4 L39.8 27.3 L38.6 28.2 L37.5 29.1 L36.3 30.0 L35.2 30.9 L34.1 31.8 L32.9 32.7 L31.8 33.6 L30.6 34.5 L29.5 35.4 L28.4 36.4 L27.4 37.5 L26.4 38.6 L25.5 39.7 L24.5 40.9 L23.6 42.0 L22.6 43.1 L21.6 44.2 L20.6 45.3 L19.5 46.3 L18.4 47.2 L17.2 48.1 L16.1 49.0 L14.9 49.9Z" fill="#6d6e71"/><path d="M34.0 50.1 L33.0 50.8 L31.8 51.1 L30.5 51.2 L29.3 50.9 L28.2 50.3 L27.3 49.4 L26.6 48.4 L26.3 47.2 L26.2 45.9 L26.5 44.7 L27.1 43.6 L28.0 42.7 L28.5 42.2 L29.0 41.8 L29.6 41.4 L30.1 40.9 L30.7 40.5 L31.3 40.1 L32.0 39.9 L32.7 39.6 L33.4 39.4 L34.1 39.2 L34.9 39.0 L35.6 38.8 L36.3 38.6 L37.0 38.3 L37.6 37.9 L38.1 37.5 L38.7 37.1 L39.2 36.6 L39.7 36.2 L40.3 35.7 L40.8 35.3 L41.4 34.9 L41.9 34.4 L42.4 34.0 L43.0 33.5 L43.4 33.0 L43.9 32.4 L44.2 31.8 L44.6 31.1 L44.9 30.4 L45.3 29.7 L45.6 29.1 L46.0 28.4 L46.4 27.8 L46.9 27.3 L47.4 26.8 L47.9 26.4 L48.5 26.0 L49.0 25.5 L49.6 25.1 L50.6 24.4 L51.8 24.1 L53.1 24.0 L54.3 24.3 L55.4 24.9 L56.3 25.8 L57.0 26.8 L57.3 28.0 L57.4 29.3 L57.1 30.5 L56.5 31.6 L55.6 32.5 L55.1 33.0 L54.6 33.4 L54.0 33.8 L53.5 34.3 L52.9 34.7 L52.3 35.1 L51.6 35.3 L50.9 35.6 L50.2 35.8 L49.5 36.0 L48.7 36.2 L48.0 36.4 L47.3 36.6 L46.6 36.9 L46.0 37.3 L45.5 37.7 L44.9 38.1 L44.4 38.6 L43.9 39.0 L43.3 39.5 L42.8 39.9 L42.2 40.3 L41.7 40.8 L41.2 41.2 L40.6 41.7 L40.2 42.2 L39.7 42.8 L39.4 43.4 L39.0 44.1 L38.7 44.8 L38.3 45.5 L38.0 46.1 L37.6 46.8 L37.2 47.4 L36.7 47.9 L36.2 48.4 L35.7 48.8 L35.1 49.2 L34.6 49.7Z" fill="#f7941d"/><circle cx="21.1" cy="11.8" r="5.8" fill="#1c9cea"/><circle cx="48.1" cy="47.3" r="5.8" fill="#1c9cea"/></svg>
<div class="t" style="left:554.91px;top:493.15px;font-size:14px;font-weight:700;color:#fdeeda;transform-origin:0 11.85px;transform:rotate(-90deg) scaleX(1.0301)">14 MAYIS 2023 MİLLETVEKİLİ GENEL SEÇİMİNDE</div>
<div class="t" style="left:575.01px;top:464.15px;font-size:14px;font-weight:700;color:#fdeeda;transform-origin:0 11.85px;transform:rotate(-90deg) scaleX(1.0065)">OY VERİLEN PARTİYE GÖRE DAĞILIM- %</div>
<div class="t ttl" style="left:162.20px;top:44.73px;font-size:23.0px;font-weight:700;color:#fff;transform:scaleX(0.9570)">MUHALEFET TÜRKİYE'Yİ YÖNETEBİLİR Mİ?</div>
<div class="t " style="left:104.50px;top:97.79px;font-size:18.2px;font-weight:700;color:#111;word-spacing:2px;transform:scaleX(0.9901)">Sizce, muhalefet partileri Türkiye'yi yönetebilir mi ?</div>
<div class="t " style="left:613.30px;top:171.05px;font-size:15px;font-weight:700;color:#fff;transform:scaleX(0.9890)">Parti Adı</div>
<div class="t " style="left:718.30px;top:171.05px;font-size:15px;font-weight:700;color:#fff;transform:scaleX(0.9609)">Evet</div>
<div class="t " style="left:785.40px;top:169.30px;font-size:15px;font-weight:700;color:#fff;transform:scaleX(0.9752)">Hayır</div>
<div class="t " style="left:864.60px;top:148.10px;font-size:15px;font-weight:700;color:#fff;transform:scaleX(0.9530)">Fikrim</div>
<div class="t " style="left:870.40px;top:169.30px;font-size:15px;font-weight:700;color:#fff;transform:scaleX(1.0278)">yok/</div>
<div class="t " style="left:850.60px;top:189.80px;font-size:15px;font-weight:700;color:#fff;transform:scaleX(0.9514)">Cevap yok</div>
<div class="t " style="left:947.50px;top:169.00px;font-size:15px;font-weight:700;color:#fff;transform:scaleX(0.9572)">Toplam</div>
<div class="t " style="left:611.25px;top:229.21px;font-size:15.7px;font-weight:700;color:#111;transform:scaleX(1.0233)">AK Parti</div>
<div class="t " style="left:627.30px;top:272.31px;font-size:15.7px;font-weight:700;color:#111;transform:scaleX(0.9419)">CHP</div>
<div class="t " style="left:624.80px;top:315.01px;font-size:15.7px;font-weight:700;color:#111;transform:scaleX(1.0867)">MHP</div>
<div class="t " style="left:604.40px;top:358.41px;font-size:15.7px;font-weight:700;color:#111;transform:scaleX(1.0538)">DEM Parti</div>
<div class="t " style="left:612.70px;top:401.11px;font-size:15.7px;font-weight:700;color:#111;transform:scaleX(1.0450)">İYİ Parti</div>
<div class="t " style="left:601.70px;top:445.01px;font-size:15.7px;font-weight:700;color:#111;transform:scaleX(1.0448)">Diğer Parti</div>
<div class="t " style="left:597.50px;top:496.11px;font-size:15.7px;font-weight:700;color:#111;transform:scaleX(1.0351)">ORTALAMA</div>
<div class="t " style="left:716.93px;top:227.71px;font-size:15.7px;font-weight:400;color:#111;transform:scaleX(1.0983)">10,5</div>
<div class="t " style="left:786.02px;top:227.71px;font-size:15.7px;font-weight:400;color:#111;transform:scaleX(1.0983)">81,4</div>
<div class="t " style="left:873.30px;top:227.71px;font-size:15.7px;font-weight:400;color:#111;transform:scaleX(1.1003)">8,1</div>
<div class="t " style="left:959.17px;top:227.71px;font-size:15.7px;font-weight:400;color:#111;transform:scaleX(1.0940)">100</div>
<div class="t " style="left:716.93px;top:270.81px;font-size:15.7px;font-weight:400;color:#111;transform:scaleX(1.0983)">60,4</div>
<div class="t " style="left:786.02px;top:270.81px;font-size:15.7px;font-weight:400;color:#111;transform:scaleX(1.0983)">26,7</div>
<div class="t " style="left:868.52px;top:270.81px;font-size:15.7px;font-weight:400;color:#111;transform:scaleX(1.0983)">12,9</div>
<div class="t " style="left:959.17px;top:270.81px;font-size:15.7px;font-weight:400;color:#111;transform:scaleX(1.0940)">100</div>
<div class="t " style="left:721.70px;top:314.01px;font-size:15.7px;font-weight:400;color:#111;transform:scaleX(1.1003)">8,2</div>
<div class="t " style="left:786.02px;top:314.01px;font-size:15.7px;font-weight:400;color:#111;transform:scaleX(1.0983)">87,6</div>
<div class="t " style="left:873.30px;top:314.01px;font-size:15.7px;font-weight:400;color:#111;transform:scaleX(1.1003)">4,2</div>
<div class="t " style="left:959.17px;top:314.01px;font-size:15.7px;font-weight:400;color:#111;transform:scaleX(1.0940)">100</div>
<div class="t " style="left:716.93px;top:357.71px;font-size:15.7px;font-weight:400;color:#111;transform:scaleX(1.0983)">30,6</div>
<div class="t " style="left:786.02px;top:357.71px;font-size:15.7px;font-weight:400;color:#111;transform:scaleX(1.0983)">54,4</div>
<div class="t " style="left:868.52px;top:357.71px;font-size:15.7px;font-weight:400;color:#111;transform:scaleX(1.0983)">15,0</div>
<div class="t " style="left:959.17px;top:357.71px;font-size:15.7px;font-weight:400;color:#111;transform:scaleX(1.0940)">100</div>
<div class="t " style="left:716.93px;top:400.81px;font-size:15.7px;font-weight:400;color:#111;transform:scaleX(1.0983)">54,1</div>
<div class="t " style="left:786.02px;top:400.81px;font-size:15.7px;font-weight:400;color:#111;transform:scaleX(1.0983)">36,6</div>
<div class="t " style="left:873.30px;top:400.81px;font-size:15.7px;font-weight:400;color:#111;transform:scaleX(1.1003)">9,3</div>
<div class="t " style="left:959.17px;top:400.81px;font-size:15.7px;font-weight:400;color:#111;transform:scaleX(1.0940)">100</div>
<div class="t " style="left:716.93px;top:444.01px;font-size:15.7px;font-weight:400;color:#111;transform:scaleX(1.0983)">24,0</div>
<div class="t " style="left:786.02px;top:444.01px;font-size:15.7px;font-weight:400;color:#111;transform:scaleX(1.0983)">58,3</div>
<div class="t " style="left:868.52px;top:444.01px;font-size:15.7px;font-weight:400;color:#111;transform:scaleX(1.0983)">17,7</div>
<div class="t " style="left:959.17px;top:449.21px;font-size:15.7px;font-weight:400;color:#111;transform:scaleX(1.0940)">100</div>
<div class="t " style="left:716.59px;top:500.71px;font-size:15.7px;font-weight:700;color:#111;transform:scaleX(1.1203)">31,3</div>
<div class="t " style="left:785.69px;top:500.71px;font-size:15.7px;font-weight:700;color:#111;transform:scaleX(1.1203)">57,5</div>
<div class="t " style="left:868.19px;top:500.71px;font-size:15.7px;font-weight:700;color:#111;transform:scaleX(1.1533)">11,2</div>
<div class="t " style="left:958.89px;top:496.01px;font-size:15.7px;font-weight:700;color:#111;transform:scaleX(1.1159)">100</div>
<div class="t " style="left:79.50px;top:446.19px;font-size:17.5px;font-weight:700;color:#fff;transform:scaleX(1.0428)">%31,3</div>
<div class="t " style="left:251.40px;top:369.79px;font-size:17.5px;font-weight:700;color:#fff;transform:scaleX(1.0479)">%57,5</div>
<div class="t " style="left:423.25px;top:504.49px;font-size:17.5px;font-weight:700;color:#fff;transform:scaleX(1.0739)">%11,2</div>
<div class="t " style="left:44.50px;top:561.31px;font-size:15.7px;font-weight:700;color:#111;transform:scaleX(1.0443)">Evet yönetebilir</div>
<div class="t " style="left:213.00px;top:561.31px;font-size:15.7px;font-weight:700;color:#111;transform:scaleX(1.0426)">Hayır yönetemez</div>
<div class="t " style="left:366.25px;top:561.31px;font-size:15.7px;font-weight:700;color:#111;transform:scaleX(1.0384)">Fikrim yok/Cevap yok</div>
<div class="t " style="left:49.50px;top:619.37px;font-size:16.1px;font-weight:700;color:#111;transform:scaleX(0.9287)">Türkiye Siyasi Gündem Mart 2026 Araştırması:</div>
<div class="t " style="left:386.00px;top:619.37px;font-size:16.1px;font-weight:400;color:#222;transform:scaleX(0.9494)">Türkiye Genelinde</div>
<div class="t " style="left:517.00px;top:619.37px;font-size:16.1px;font-weight:400;color:#222;transform:scaleX(0.9477)">NUTS-2 sistemine göre</div>
<div class="t " style="left:681.00px;top:619.37px;font-size:16.1px;font-weight:400;color:#222;transform:scaleX(1.0033)">26 ilde 9-16 Mart 2026 tarihleri</div>
<div class="t " style="left:49.50px;top:640.62px;font-size:16.1px;font-weight:400;color:#222;transform:scaleX(0.9692)">arasında önceden hazırlanmış soru formuna bağlı</div>
<div class="t " style="left:400.00px;top:640.62px;font-size:16.1px;font-weight:400;color:#222;transform:scaleX(0.9486)">olarak 18 yaş ve üzeri toplamda 2000</div>
<div class="t " style="left:661.00px;top:640.62px;font-size:16.1px;font-weight:400;color:#222;transform:scaleX(0.9830)">kişiyle yapılmıştır. Araştırma; %95 güven</div>
<div class="t " style="left:49.50px;top:661.87px;font-size:16.1px;font-weight:400;color:#222;transform:scaleX(0.9535)">sınırında +/- 2.5 hata payı ile CATI</div>
<div class="t " style="left:288.75px;top:661.87px;font-size:16.1px;font-weight:400;color:#222;transform:scaleX(0.9486)">(Bilgisayar Destekli Telefonda</div>
<div class="t " style="left:497.50px;top:661.87px;font-size:16.1px;font-weight:400;color:#222;transform:scaleX(0.9949)">Anket) yöntemiyle gerçekleştirilmiştir.</div>
<div class="t " style="left:766.25px;top:661.87px;font-size:16.1px;font-weight:400;color:#222;transform:scaleX(0.9893)">Örneklemin illere göre</div>
<div class="t " style="left:49.50px;top:683.12px;font-size:16.1px;font-weight:400;color:#222;transform:scaleX(0.9596)">dağılımında son genel seçimlerdeki seçmen sayısı baz alınmıştır.</div>
<div class="t asal" style="left:857.20px;top:24.28px;font-size:52px;font-weight:700;color:#6d6e71;transform:scaleX(0.8844)">ASAL</div>
<div class="t " style="left:856.00px;top:69.92px;font-size:9.9px;font-weight:700;color:#6d6e71;transform:scaleX(0.8577)">ARAŞTIRMA VE DANIŞMANLIK</div>
</div>
</body></html>
